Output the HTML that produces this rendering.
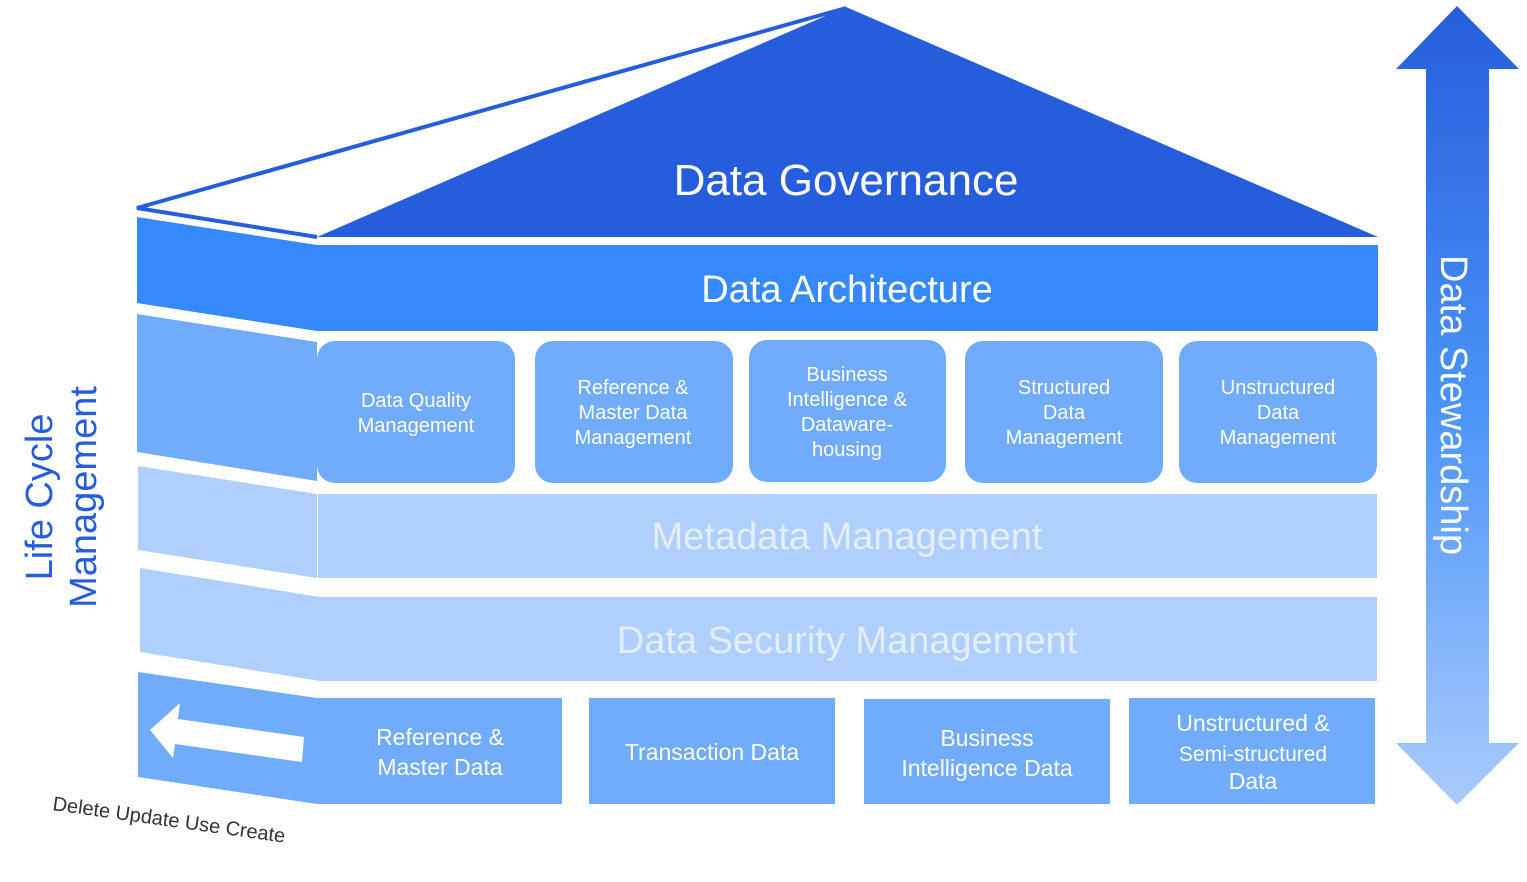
<!DOCTYPE html>
<html><head><meta charset="utf-8"><style>
body{margin:0;background:#fff;width:1527px;height:877px;overflow:hidden}
svg text{font-family:"Liberation Sans",sans-serif}
</style></head><body>
<svg width="1527" height="877" viewBox="0 0 1527 877" xmlns="http://www.w3.org/2000/svg">
<defs>
<linearGradient id="g" x1="0" y1="0" x2="0" y2="1">
<stop offset="0" stop-color="#265DDC"/><stop offset="0.5" stop-color="#4A94F8"/><stop offset="1" stop-color="#AACBFC"/>
</linearGradient>
</defs>
<!-- roof -->
<polyline points="317,237 137,208 846,8" fill="none" stroke="#265DDC" stroke-width="4"/>
<polygon points="317,237 846,7 1378,237" fill="#265DDC"/>
<text x="846" y="195" font-size="44" fill="#fff" text-anchor="middle">Data Governance</text>
<!-- architecture -->
<polygon points="137,217 317,245 317,331 137,303" fill="#3589FB"/>
<rect x="317" y="245" width="1061" height="86" fill="#3589FB"/>
<text x="847" y="302" font-size="38" fill="#fff" text-anchor="middle">Data Architecture</text>
<!-- row 3 -->
<polygon points="137,314 317,342 317,481 137,452" fill="#70ABFC"/>
<g fill="#70ABFC">
<rect x="317" y="341" width="198" height="142" rx="18"/>
<rect x="535" y="341" width="198" height="142" rx="18"/>
<rect x="749" y="340" width="197" height="142" rx="18"/>
<rect x="965" y="341" width="198" height="142" rx="18"/>
<rect x="1179" y="341" width="198" height="142" rx="18"/>
</g>
<g font-size="20" fill="#fff" text-anchor="middle">
<text x="416" y="407">Data Quality</text><text x="416" y="432">Management</text>
<text x="633" y="394">Reference &amp;</text><text x="633" y="419">Master Data</text><text x="633" y="444">Management</text>
<text x="847" y="381">Business</text><text x="847" y="406">Intelligence &amp;</text><text x="847" y="431">Dataware-</text><text x="847" y="456">housing</text>
<text x="1064" y="394">Structured</text><text x="1064" y="419">Data</text><text x="1064" y="444">Management</text>
<text x="1278" y="394">Unstructured</text><text x="1278" y="419">Data</text><text x="1278" y="444">Management</text>
</g>
<!-- metadata -->
<polygon points="138,466 317,494 317,578 138,550" fill="#AFCFFC"/>
<rect x="318" y="494" width="1059" height="84" fill="#AFCFFC"/>
<text x="847" y="549" font-size="38" fill="#E4EEFD" text-anchor="middle">Metadata Management</text>
<!-- security -->
<polygon points="140,568 320,597 320,681 140,652" fill="#AFCFFC"/>
<rect x="319" y="597" width="1058" height="84" fill="#AFCFFC"/>
<text x="847" y="653" font-size="38" fill="#E4EEFD" text-anchor="middle">Data Security Management</text>
<!-- bottom -->
<polygon points="138,672 317,698 317,804 138,777" fill="#70ABFC"/>
<polygon points="150,730 180,703 178,719 304,737 302,762 175,744 173,758" fill="#fff"/>
<g fill="#70ABFC">
<rect x="317" y="698" width="245" height="106"/>
<rect x="589" y="698" width="246" height="106"/>
<rect x="864" y="699" width="246" height="105"/>
<rect x="1129" y="698" width="246" height="106"/>
</g>
<g font-size="23" fill="#fff" text-anchor="middle">
<text x="440" y="745">Reference &amp;</text><text x="440" y="775">Master Data</text>
<text x="712" y="760">Transaction Data</text>
<text x="987" y="746">Business</text><text x="987" y="776">Intelligence  Data</text>
<text x="1253" y="731">Unstructured &amp;</text><text x="1253" y="761" font-size="21">Semi-structured</text><text x="1253" y="789">Data</text>
</g>
<text x="52" y="810" font-size="20" fill="#333" transform="rotate(8 52 810)">Delete Update Use Create</text>
<!-- life cycle -->
<g font-size="38" fill="#265DDC" text-anchor="middle">
<text x="0" y="0" transform="translate(52,497) rotate(-90)">Life Cycle</text>
<text x="0" y="0" transform="translate(96,497) rotate(-90)">Management</text>
</g>
<!-- stewardship arrow -->
<polygon points="1457,6 1519,69 1489,69 1489,743 1519,743 1457,805 1396,743 1426,743 1426,69 1396,69" fill="url(#g)"/>
<text x="0" y="0" transform="translate(1441,405) rotate(90)" font-size="38" fill="#fff" text-anchor="middle">Data Stewardship</text>
</svg>
</body></html>
